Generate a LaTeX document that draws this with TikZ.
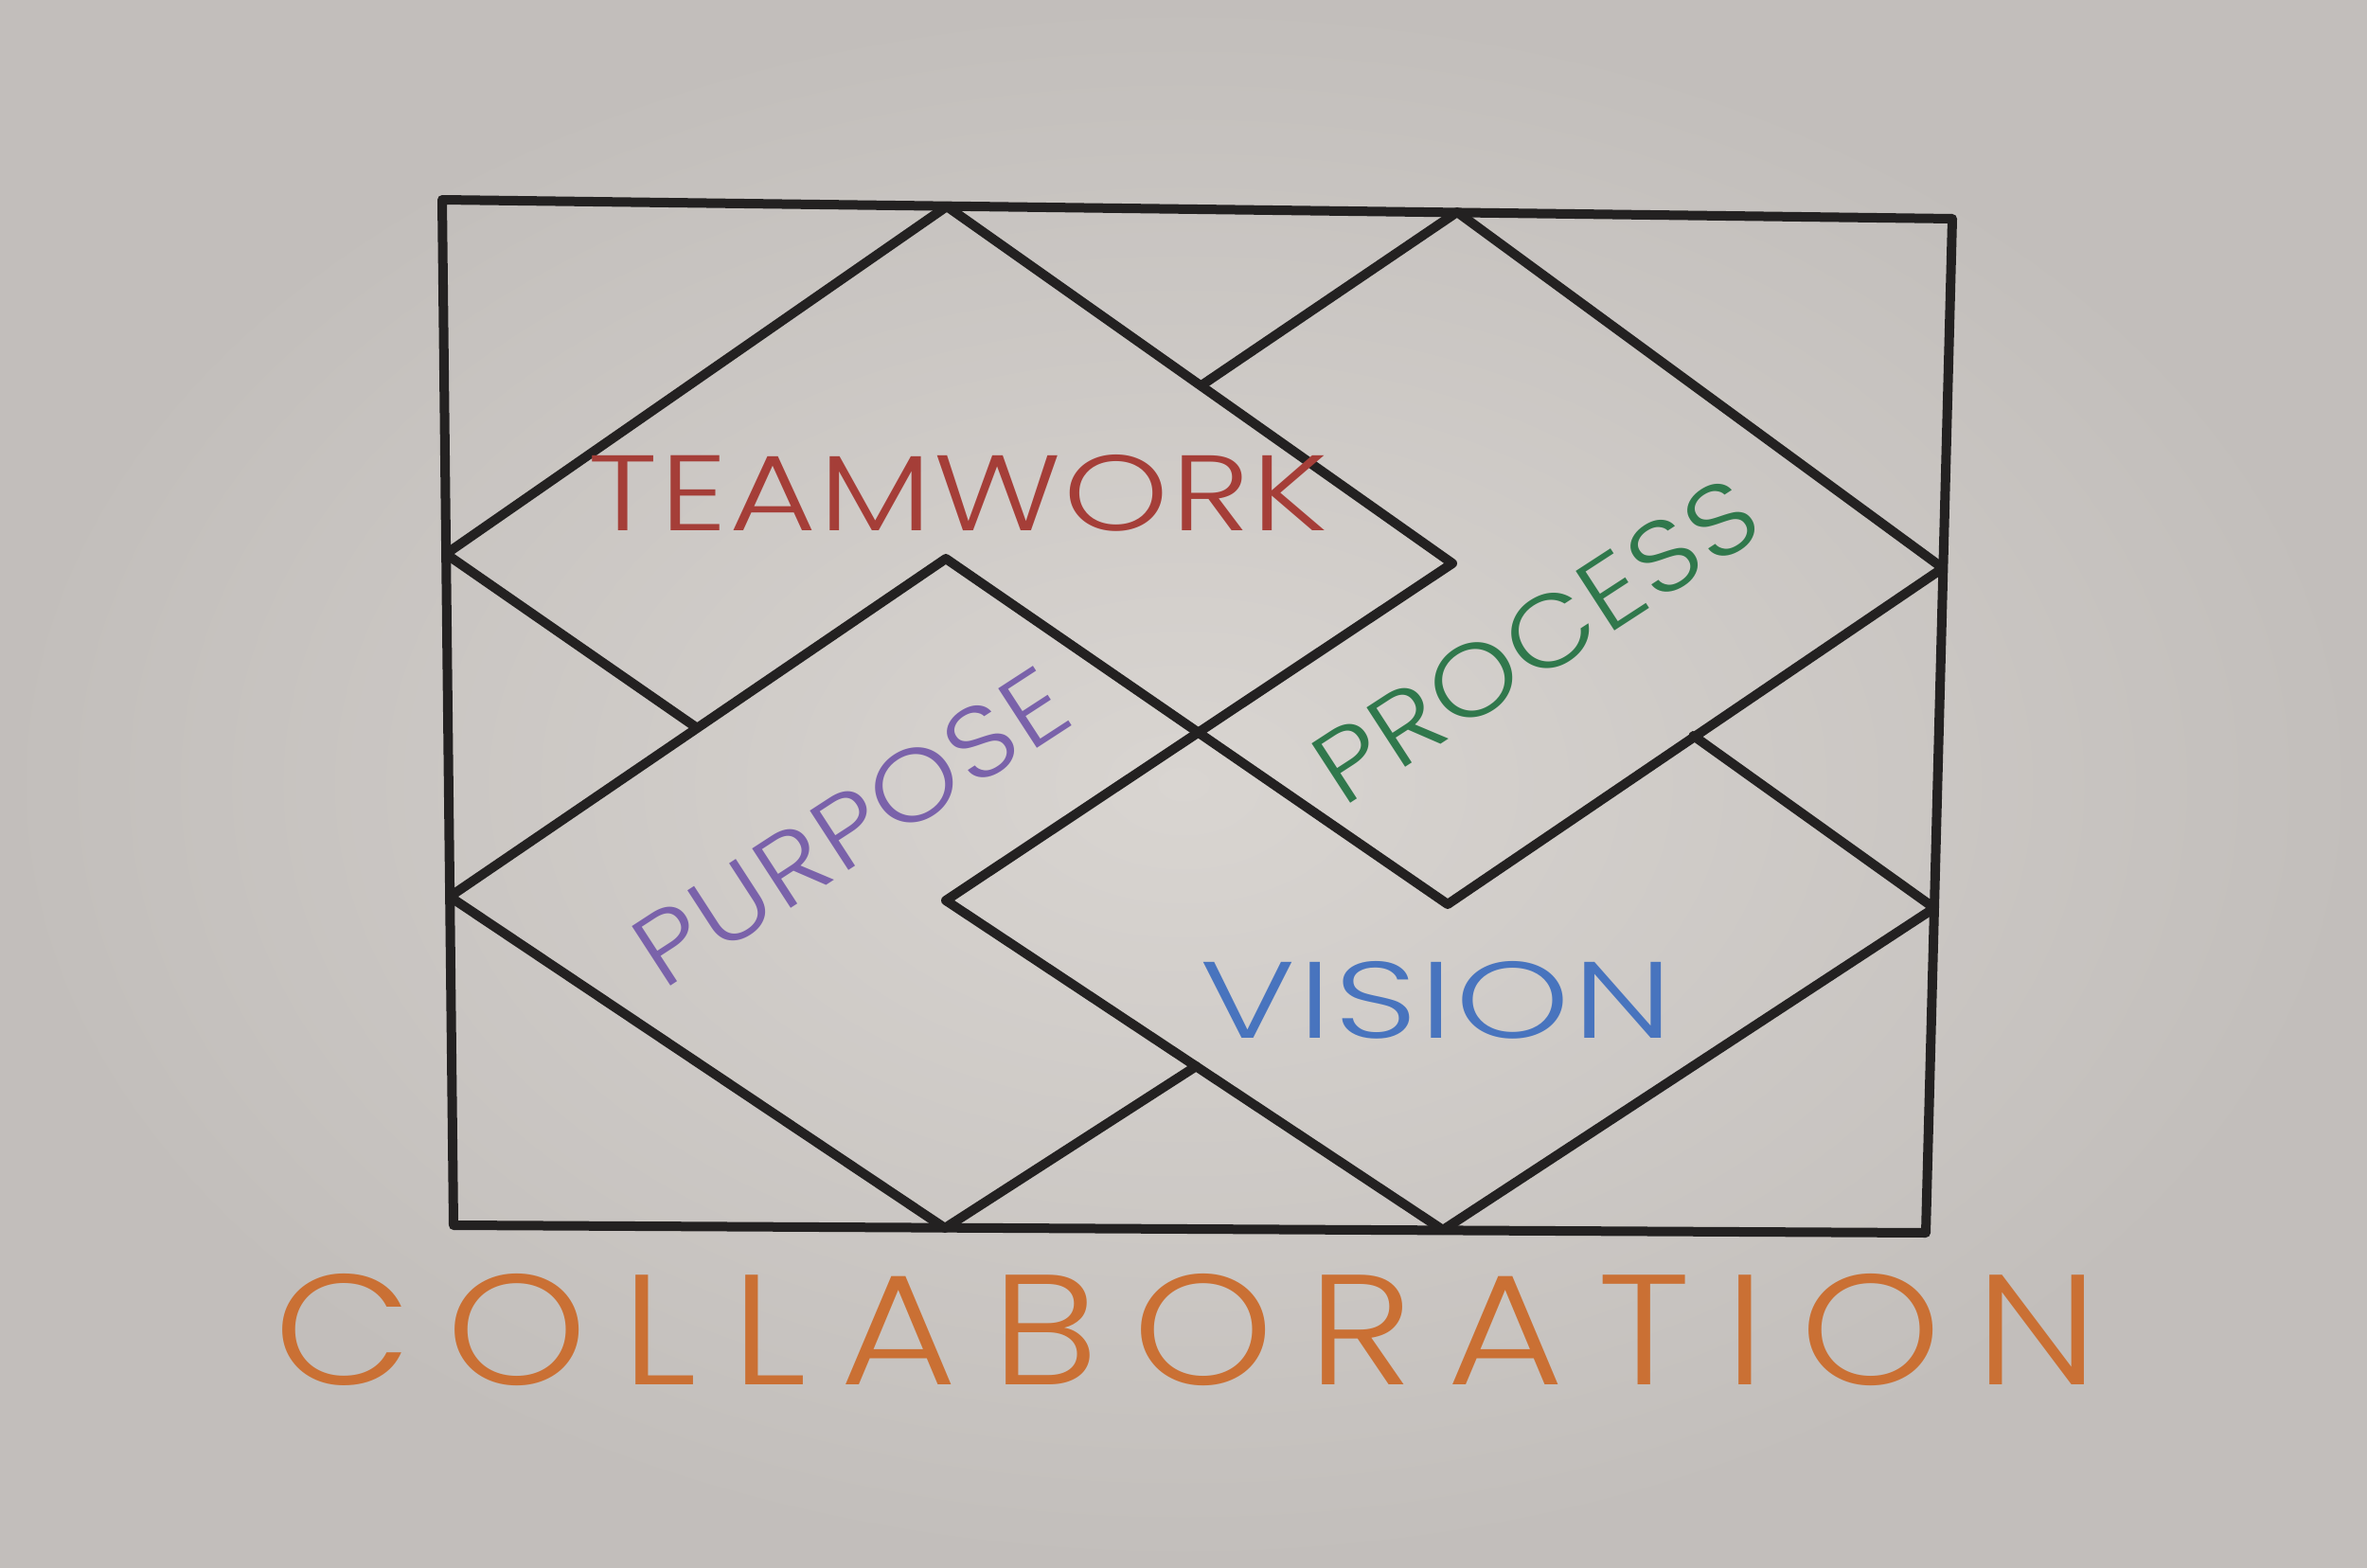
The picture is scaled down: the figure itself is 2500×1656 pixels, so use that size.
\documentclass[tikz,border=0pt]{standalone}
\usepackage{fontspec}
\usepackage{graphicx}
\usetikzlibrary{calc}

\newfontfamily\cardfont{Poppins Light}[LetterSpace=2, FakeStretch=1.1]
\newfontfamily\slantfont{Poppins Light}[LetterSpace=2, FakeStretch=1.12]
\newfontfamily\titlefont{Poppins Light}[LetterSpace=18, FakeStretch=0.95]

\definecolor{paperlight}{RGB}{217,213,209}
\definecolor{paperdark}{RGB}{194,190,187}
\definecolor{ink}{RGB}{35,33,33}
\definecolor{teamred}{RGB}{165,62,56}
\definecolor{processgreen}{RGB}{48,120,76}
\definecolor{purposepurple}{RGB}{122,98,170}
\definecolor{visionblue}{RGB}{72,116,190}
\definecolor{collaborange}{RGB}{202,112,52}

\begin{document}
\begin{tikzpicture}[x=1pt, y=-1pt,
    edge/.style={line width=10pt, draw=ink, line cap=round, line join=round},
    word/.style={inner sep=0pt, font=\cardfont},
    tilted/.style={inner sep=0pt, rotate=33, font={\slantfont\fontsize{107pt}{107pt}\selectfont}}
]
    \useasboundingbox (0,0) rectangle (2500,1656);
    \shade[inner color=paperlight, outer color=paperdark] (0,0) rectangle (2500,1656);

    % frame
    \coordinate (tl) at (467,211);
    \coordinate (tr) at (2062,231);
    \coordinate (br) at (2034,1302);
    \coordinate (bl) at (479,1294);
    \draw[edge] (tl) -- (tr) -- (br) -- (bl) -- cycle;

    % grid points (column, row)
    \coordinate (p10) at (1000,218);
    \coordinate (p20) at (1539,224);
    \coordinate (p01) at (471,585);
    \coordinate (p02) at (475,947);
    \coordinate (p11) at (999,590);
    \coordinate (p21) at (1534,595);
    \coordinate (p12) at (999,951);
    \coordinate (p22) at (1529,955);
    \coordinate (p31) at (2052,600);
    \coordinate (p32) at (2043,959);
    \coordinate (p13) at (998,1297);
    \coordinate (p23) at (1524,1299);

    % the two woven bands
    \draw[edge] ($(p01)!0.5!(p12)$) -- (p01) -- (p10) -- (p21) -- (p12) -- (p23) -- (p32) -- ($(p32)!0.5!(p21)$);
    \draw[edge] ($(p13)!0.5!(p22)$) -- (p13) -- (p02) -- (p11) -- (p22) -- (p31) -- (p20) -- ($(p20)!0.5!(p11)$);

    % words
    \node[word, text=teamred] (teamwork) at (1012,521) {\resizebox{781pt}{80pt}{TEAMWORK}};
    \node[tilted, text=processgreen] (process) at (1622,676) {PROCESS};
    \node[tilted, text=purposepurple] (purpose) at (899,873) {PURPOSE};
    \node[word, text=visionblue] (vision) at (1517,1056) {\resizebox{499pt}{81pt}{VISION}};
    \node[word, font=\titlefont, text=collaborange] (collab) at (1253,1405) {\resizebox{1926pt}{117pt}{COLLABORATION}};
\end{tikzpicture}
\end{document}
